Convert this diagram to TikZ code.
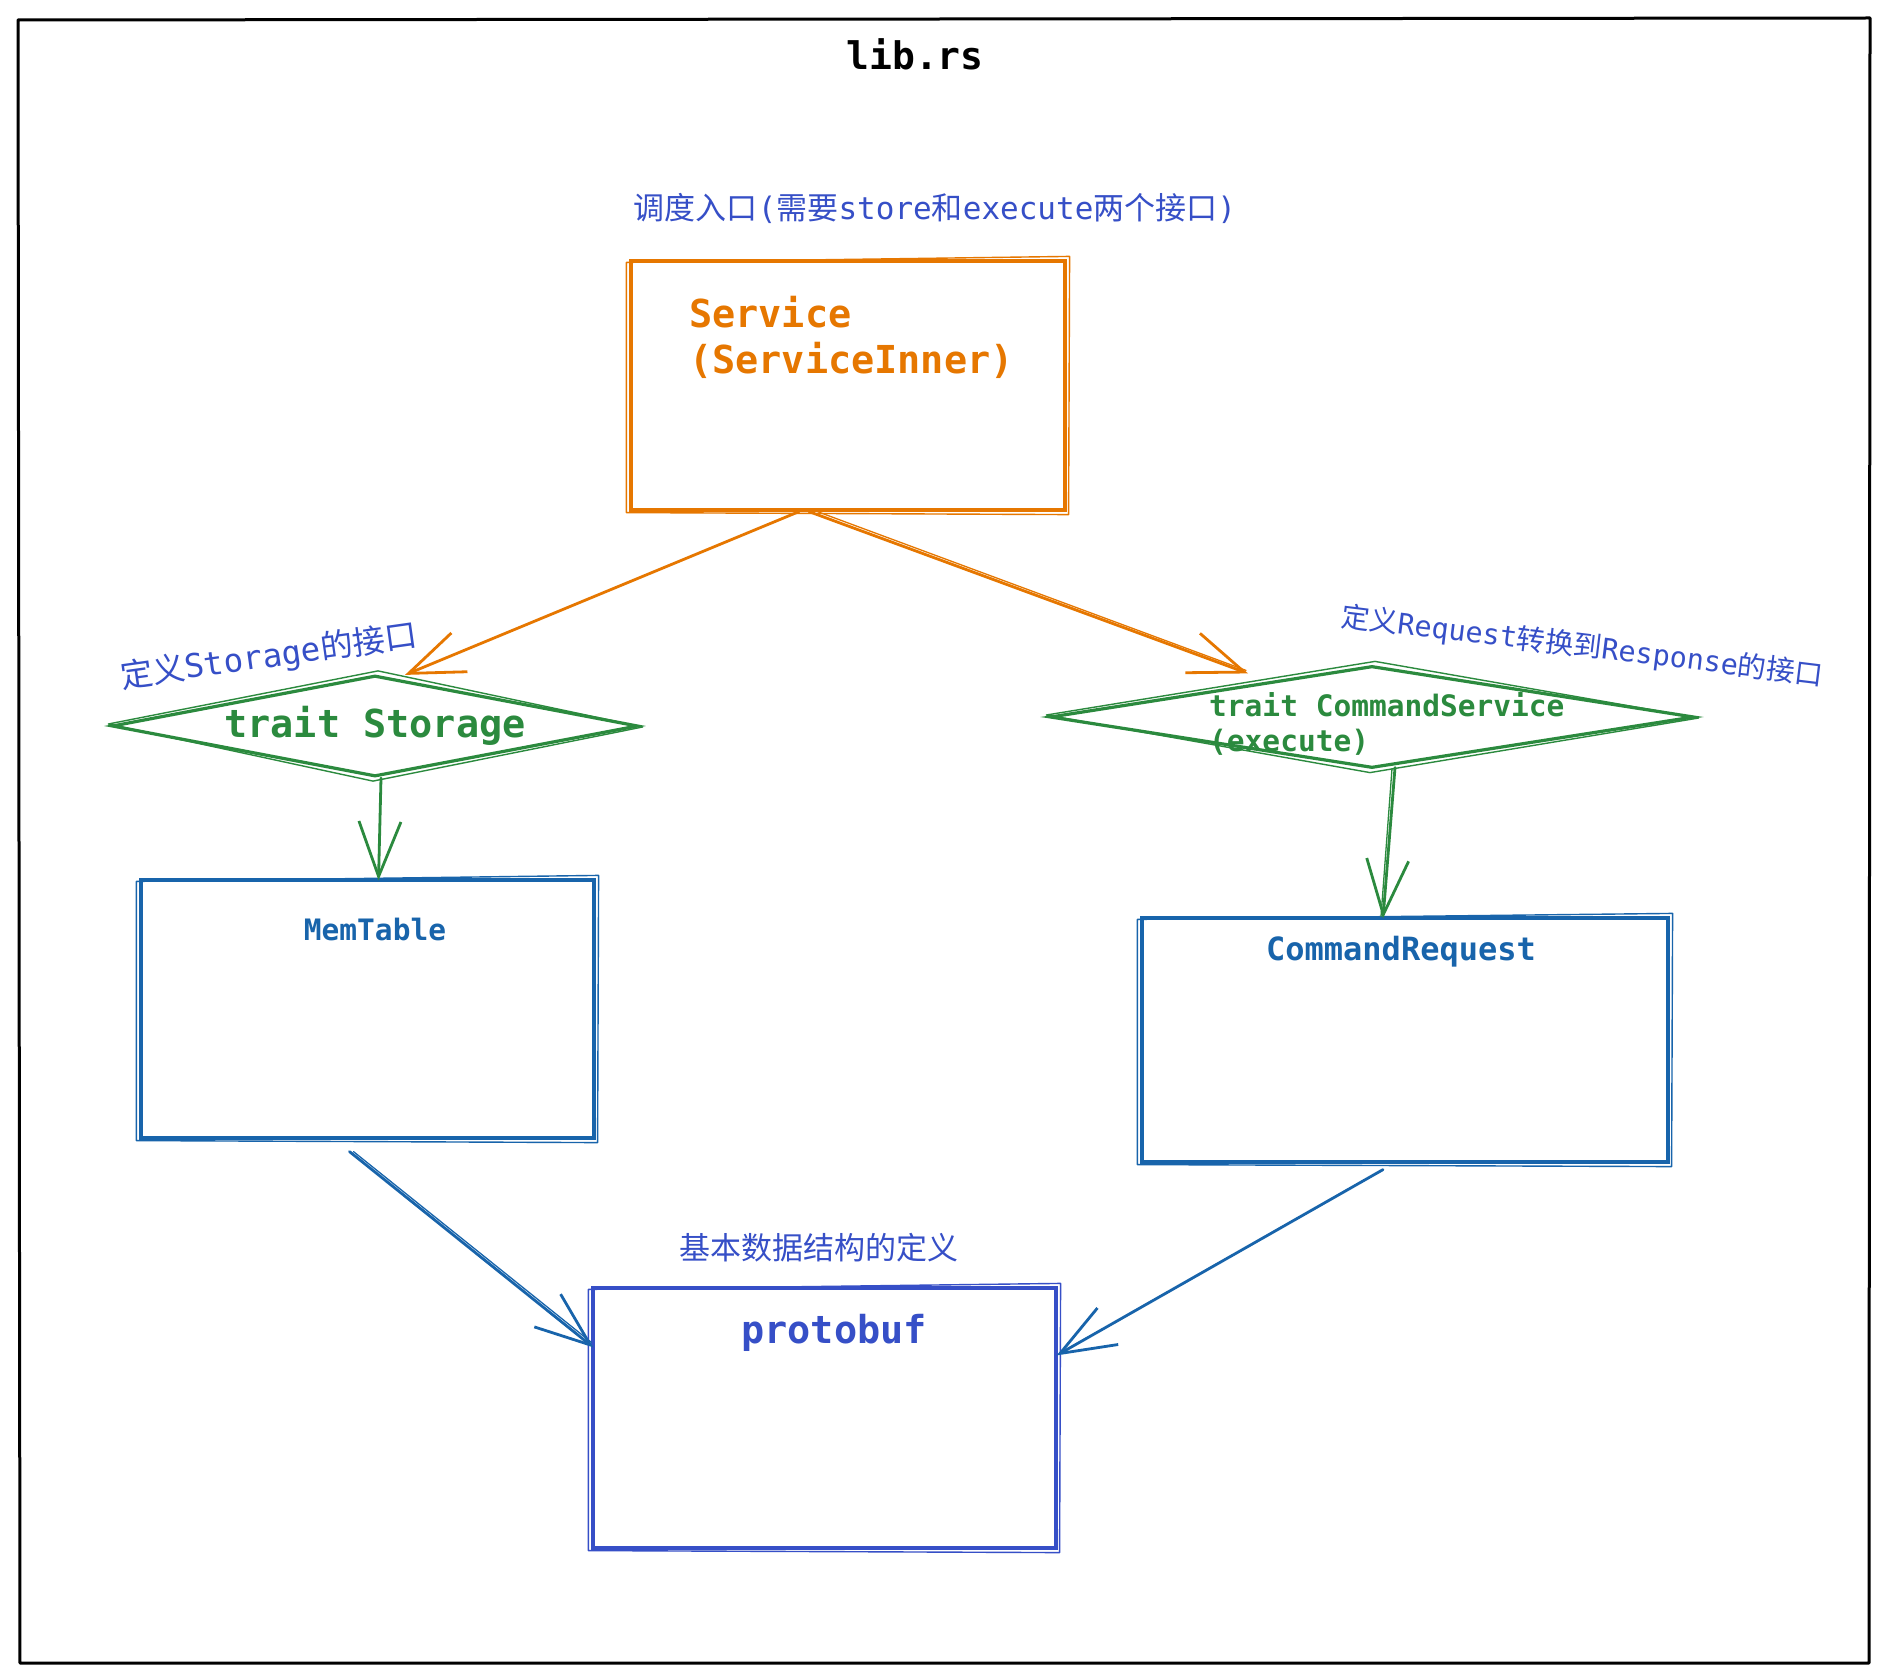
\documentclass[tikz,border=0pt]{standalone}
\usepackage{fontspec}
\setmonofont{DejaVu Sans Mono}
\newfontfamily\cjk{Noto Sans CJK SC}
\usetikzlibrary{arrows.meta,shapes.geometric,calc}
\definecolor{orng}{HTML}{E67700}
\definecolor{grn}{HTML}{2B8A3E}
\definecolor{blu}{HTML}{1864AB}
\definecolor{ind}{HTML}{364FC7}
\newcommand\skrect[2]{\draw[#2, line width=1.4pt, line join=round]
  ($(#1.north west)+(-3,3)$) -- ($(#1.north east)+(3,-3)$) -- ($(#1.south east)+(2,3)$) -- ($(#1.south west)+(-3,1)$) -- cycle;}
\newcommand\skdia[1]{\draw[grn, line width=1.4pt, line join=round]
  ($(#1.west)+(-2,-2)$) -- ($(#1.north)+(3,-3)$) -- ($(#1.east)+(3,1)$) -- ($(#1.south)+(-2,3)$) -- cycle;}
\begin{document}
\begin{tikzpicture}[x=1pt,y=-1pt,
  sbox/.style={draw, rectangle, line width=3.2pt, inner sep=0pt},
  dia/.style={draw=grn, diamond, line width=3.2pt, inner sep=0pt},
  conn/.style={line width=2.8pt, line cap=round, line join=round,
    -{Straight Barb[length=55pt,width=42pt,line width=2.8pt]}},
  thinconn/.style={line width=1.3pt, line cap=round},
  capt/.style={text=ind, font=\ttfamily\fontsize{31}{37}\selectfont, inner sep=0pt},
  lblbig/.style={font=\ttfamily\bfseries\fontsize{38.5}{47}\selectfont, inner sep=0pt},
  lblmid/.style={font=\ttfamily\bfseries\fontsize{32}{39}\selectfont, inner sep=0pt},
  lblsmall/.style={font=\ttfamily\bfseries\fontsize{29.5}{35}\selectfont, inner sep=0pt}]
\useasboundingbox (0,0) rectangle (1885,1677);
\fill[white] (0,0) rectangle (1885,1677);

% outer frame
\draw[line width=3pt, line join=round] (18,20) -- (1870,18) -- (1869,1663) -- (20,1663) -- cycle;
\node[lblbig, font=\ttfamily\bfseries\fontsize{38}{46}\selectfont] (title) at (915,54) {lib.rs};

% service
\node[capt] (capsvc) at (935,208) {{\cjk 调度入口}({\cjk 需要}store{\cjk 和}execute{\cjk 两个接口})};
\node[sbox, draw=orng, minimum width=434pt, minimum height=249pt] (svc) at (848,385.5) {};
\skrect{svc}{orng}
\node[lblbig, text=orng, align=left, anchor=base west] (svctxt) at (689,374) {Service\\(ServiceInner)};

% storage
\node[capt, rotate=8, font=\ttfamily\fontsize{32.5}{38}\selectfont] (capst) at (269,657) {{\cjk 定义}Storage{\cjk 的接口}};
\node[dia, minimum width=526pt, minimum height=101pt] (st) at (375,726) {};
\skdia{st}
\node[lblbig, text=grn] (sttxt) at (375,726) {trait Storage};

% command service
\node[capt, rotate=-7, font=\ttfamily\fontsize{28.5}{34}\selectfont] (capcs) at (1582,647) {{\cjk 定义}Request{\cjk 转换到}Response{\cjk 的接口}};
\node[dia, minimum width=644pt, minimum height=102pt] (cs) at (1372,717) {};
\skdia{cs}
\node[lblsmall, text=grn, align=left, anchor=base west] (cstxt) at (1209,751) {trait CommandService\\(execute)};

% memtable
\node[sbox, draw=blu, minimum width=453pt, minimum height=258pt] (mem) at (367.5,1009) {};
\skrect{mem}{blu}
\node[lblsmall, text=blu] (memtxt) at (375,929) {MemTable};

% command request
\node[sbox, draw=blu, minimum width=526pt, minimum height=244pt] (cr) at (1405,1040) {};
\skrect{cr}{blu}
\node[lblmid, text=blu] (crtxt) at (1401,952) {CommandRequest};

% protobuf
\node[capt] (cappb) at (819,1248) {\cjk 基本数据结构的定义};
\node[sbox, draw=ind, minimum width=463pt, minimum height=260pt] (pb) at (824.5,1418) {};
\skrect{pb}{ind}
\node[lblbig, text=ind] (pbtxt) at (834,1333) {protobuf};

% connectors
\draw[conn, orng] ([xshift=-49pt]svc.south) -- ($(st.north)+(30,1)$);
\draw[conn, orng] ([xshift=-39pt]svc.south) -- ($(cs.north)+(-124,9)$);
\draw[thinconn, orng] ($(svc.south)+(-36,-2)$) -- ($(cs.north)+(-126,6)$);
\draw[conn, grn] ($(st.south)+(6,0)$) -- ($(mem.north)+(11,2)$);
\draw[conn, grn] ($(cs.south)+(23,-2)$) -- ($(cr.north)+(-22,2)$);
\draw[thinconn, grn] ($(cs.south)+(20,-1)$) -- ($(cr.north)+(-24,0)$);
\draw[conn, blu] ($(mem.south)+(-18,12)$) -- ($(pb.north west)+(2,61)$);
\draw[thinconn, blu] ($(mem.south)+(-14,12)$) -- ($(pb.north west)+(0,56)$);
\draw[conn, blu] ($(cr.south)+(-22,6)$) -- ($(pb.north east)+(-1,69)$);
\end{tikzpicture}
\end{document}
